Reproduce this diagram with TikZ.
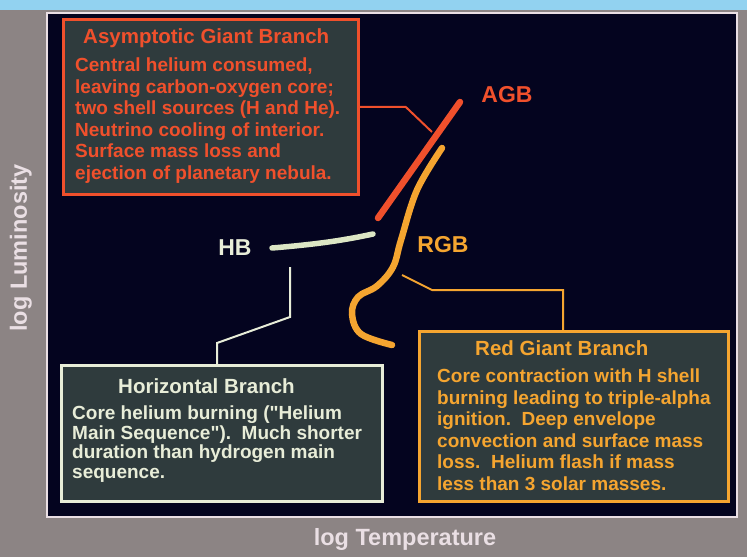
\documentclass[tikz,border=0pt]{standalone}
\usepackage{fontspec}
\setmainfont{Liberation Sans}
\newfontfamily\plainfont{Liberation Sans}
\newcommand{\straightdq}{{\plainfont\bfseries"}}
\usepackage{xcolor}
\usetikzlibrary{positioning}

\definecolor{slidegray}{HTML}{8C8484}
\definecolor{skyband}{HTML}{92D2F0}
\definecolor{night}{HTML}{04041F}
\definecolor{rimpink}{HTML}{EADFE4}
\definecolor{boxslate}{HTML}{2F3B3D}
\definecolor{agbred}{HTML}{F0502C}
\definecolor{rgborange}{HTML}{F5A530}
\definecolor{hbcream}{HTML}{E8EDD8}
\definecolor{hbgreen}{HTML}{DCE6C4}

\begin{document}
\begin{tikzpicture}[x=1pt, y=-1pt,
    panel/.style={rectangle, draw, line width=2.6pt, fill=boxslate, inner sep=0pt, anchor=north west},
    hdr/.style={inner sep=0pt, anchor=north west, font=\bfseries\fontsize{20.5}{24}\selectfont},
    txt/.style={inner sep=0pt, anchor=north west, align=left, font=\bfseries\fontsize{19}{21.5}\selectfont},
    tag/.style={inner sep=0pt, font=\bfseries\fontsize{23}{26}\selectfont},
    axis/.style={inner sep=0pt, anchor=base, text=rimpink, font=\bfseries\fontsize{23.5}{26}\selectfont},
    lead/.style={line width=2pt},
    track/.style={line width=6.5pt, line cap=round}
]
\useasboundingbox (0,0) rectangle (747,557);
\fill[slidegray] (0,0) rectangle (747,557);
\fill[skyband] (0,0) rectangle (747,10);
\filldraw[fill=night, draw=rimpink, line width=2pt] (47,13) rectangle (737,517);

% axis titles
\node (ylab) [axis, rotate=90] at (27,248) {log Luminosity};
\node (xlab) [axis] at (405,545) {log Temperature};

% evolutionary tracks
\draw[track, agbred] (378,218) -- (460,102);
\draw[track, rgborange] plot[smooth, tension=0.6] coordinates {(442,148) (417,190) (401,240) (393,267) (377,286) (358,297) (352,314) (361,334) (392,345)};
\draw[track, hbgreen, line width=5.5pt] (272,248) .. controls (320,244) and (345,240) .. (373,234);

\node (agbtag) [tag, text=agbred] at (507,95) {AGB};
\node (rgbtag) [tag, text=rgborange] at (443,245) {RGB};
\node (hbtag) [tag, text=hbcream] at (235,248) {HB};

% AGB box
\node (agbbox) [panel, draw=agbred, minimum width=295pt, minimum height=175pt] at (62,18) {};
\node (agbhdr) [hdr, text=agbred, below right=10pt and 21pt of agbbox.north west] {Asymptotic Giant Branch};
\node (agbtxt) [txt, text=agbred, below right=40pt and 13pt of agbbox.north west] {Central helium consumed,\\leaving carbon-oxygen core;\\two shell sources (H and He).\\Neutrino cooling of interior.\\Surface mass loss and\\ejection of planetary nebula.};

% HB box
\node (hbbox) [panel, draw=hbcream, minimum width=321pt, minimum height=136pt] at (60,364) {};
\node (hbhdr) [hdr, text=hbcream, below right=14pt and 58pt of hbbox.north west] {Horizontal Branch};
\node (hbtxt) [txt, text=hbcream, font=\bfseries\fontsize{19}{19.5}\selectfont, below right=42pt and 12pt of hbbox.north west] {Core helium burning (\straightdq Helium\\Main Sequence\straightdq).\ \ Much shorter\\duration than hydrogen main\\sequence.};

% RGB box
\node (rgbbox) [panel, draw=rgborange, minimum width=309pt, minimum height=170pt] at (418,330) {};
\node (rgbhdr) [hdr, text=rgborange, below right=10pt and 57pt of rgbbox.north west] {Red Giant Branch};
\node (rgbtxt) [txt, text=rgborange, below right=39pt and 19pt of rgbbox.north west] {Core contraction with H shell\\burning leading to triple-alpha\\ignition.\ \ Deep envelope\\convection and surface mass\\loss.\ \ Helium flash if mass\\less than 3 solar masses.};

% leader lines
\coordinate (agbtip) at (432,132);
\coordinate (rgbtip) at (402,275);
\coordinate (rgbknee) at (563,290);
\coordinate (hbtip) at (290,267);
\coordinate (hbknee) at (217,343);
\draw[lead, agbred] (agbbox.east) -- ++(46,0) -- (agbtip);
\draw[lead, rgborange] (rgbtip) -- ++(30,15) -- (rgbknee) -- (rgbknee |- rgbbox.north);
\draw[lead, hbcream] (hbtip) -- ++(0,50) -- (hbknee) -- (hbknee |- hbbox.north);
\end{tikzpicture}
\end{document}
